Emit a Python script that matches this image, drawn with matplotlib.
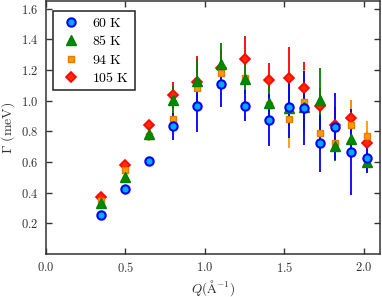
import matplotlib
matplotlib.use("Agg")
import matplotlib.pyplot as plt
from matplotlib.lines import Line2D
from matplotlib.ticker import FuncFormatter, MultipleLocator

plt.rcParams['mathtext.fontset'] = 'cm'
plt.rcParams['font.family'] = ['DejaVu Serif']

Q = [0.35, 0.50, 0.65, 0.80, 0.95, 1.10, 1.25, 1.40, 1.53, 1.62, 1.72, 1.82, 1.92, 2.02]

g60 = [0.257, 0.425, 0.606, 0.832, 0.963, 1.107, 0.967, 0.874, 0.956, 0.952, 0.723, 0.830, 0.665, 0.627]
e60 = [0.0, 0.0, 0.0, 0.09, 0.17, 0.15, 0.10, 0.17, 0.20, 0.24, 0.185, 0.22, 0.28, 0.10]

g85 = [0.331, 0.505, 0.780, 1.004, 1.130, 1.240, 1.143, 0.982, 0.952, 0.958, 1.006, 0.706, 0.749, 0.603]
e85 = [0.0, 0.0, 0.0, 0.09, 0.14, 0.135, 0.10, 0.13, 0.12, 0.13, 0.21, 0.10, 0.12, 0.06]

g94 = [0.348, 0.549, 0.767, 0.882, 1.083, 1.179, 1.148, 0.974, 0.882, 0.991, 0.789, 0.723, 0.843, 0.767]
e94 = [0.0, 0.0, 0.03, 0.06, 0.10, 0.10, 0.10, 0.10, 0.19, 0.21, 0.12, 0.10, 0.16, 0.10]

g105 = [0.372, 0.582, 0.843, 1.035, 1.120, 1.214, 1.272, 1.135, 1.150, 1.085, 0.963, 0.840, 0.887, 0.723]
e105 = [0.0, 0.0, 0.0, 0.087, 0.17, 0.12, 0.15, 0.11, 0.20, 0.17, 0.12, 0.12, 0.12, 0.08]

labels = [r'$\mathrm{60\ K}$', r'$\mathrm{85\ K}$', r'$\mathrm{94\ K}$', r'$\mathrm{105\ K}$']

styles = {
    '105': dict(marker='D', ms=5.5, mfc='#ff2a00', mec='#ff0000', mew=1.2, ecolor='#ff0000'),
    '94': dict(marker='s', ms=5, mfc='#ff9a00', mec='#e47c00', mew=1.0, ecolor='#ff9a00'),
    '85': dict(marker='^', ms=7, mfc='#008a00', mec='#008000', mew=1.0, ecolor='#008000'),
    '60': dict(marker='o', ms=6, mfc='#00aaff', mec='#0000ff', mew=1.5, ecolor='#0000ff'),
}

fig = plt.figure(figsize=(3.82, 2.97), dpi=100)
ax = fig.add_axes([0.1196, 0.1448, 0.8752, 0.8518])

series = [('105', g105, e105), ('94', g94, e94), ('85', g85, e85), ('60', g60, e60)]
for key, g, e in series:
    st = styles[key]
    ax.errorbar(Q, g, yerr=e, fmt=st['marker'], ms=st['ms'], mfc=st['mfc'], mec=st['mec'],
                mew=st['mew'], ecolor=st['ecolor'], elinewidth=1.3, capsize=0)

ax.set_xlim(0, 2.1)
ax.set_ylim(0, 1.65)
ax.xaxis.set_major_locator(MultipleLocator(0.5))
ax.set_yticks([0.2, 0.4, 0.6, 0.8, 1.0, 1.2, 1.4, 1.6])
fmt = FuncFormatter(lambda v, p: r'$%.1f$' % v)
ax.xaxis.set_major_formatter(fmt)
ax.yaxis.set_major_formatter(fmt)
ax.tick_params(direction='in', top=True, right=True, length=4, width=1,
               labelsize=9, colors='#333333', pad=5)
for s in ax.spines.values():
    s.set_color('#333333')
    s.set_linewidth(1.1)

ax.set_xlabel(r'$Q(\mathrm{\AA}^{-1})$', fontsize=9.5, color='#333333')
ax.xaxis.set_label_coords(0.5, -0.133, transform=ax.transAxes)
ax.xaxis.label.set_va('center')
ax.set_ylabel(r'$\Gamma\ (\mathrm{meV})$', fontsize=10, color='#333333', labelpad=3)

handles = []
for key in ['60', '85', '94', '105']:
    st = styles[key]
    handles.append(Line2D([], [], ls='none', marker=st['marker'], ms=st['ms'], mfc=st['mfc'],
                          mec=st['mec'], mew=st['mew']))

leg = ax.legend(handles, labels, loc='upper left',
                bbox_to_anchor=(0.022, 0.962), borderaxespad=0, fancybox=False,
                framealpha=1, edgecolor='#222222', fontsize=10, handletextpad=0.6,
                labelspacing=0.3, borderpad=0.4, handlelength=1.8)
leg.get_frame().set_linewidth(1.1)

fig.savefig('out.png', dpi=100)
